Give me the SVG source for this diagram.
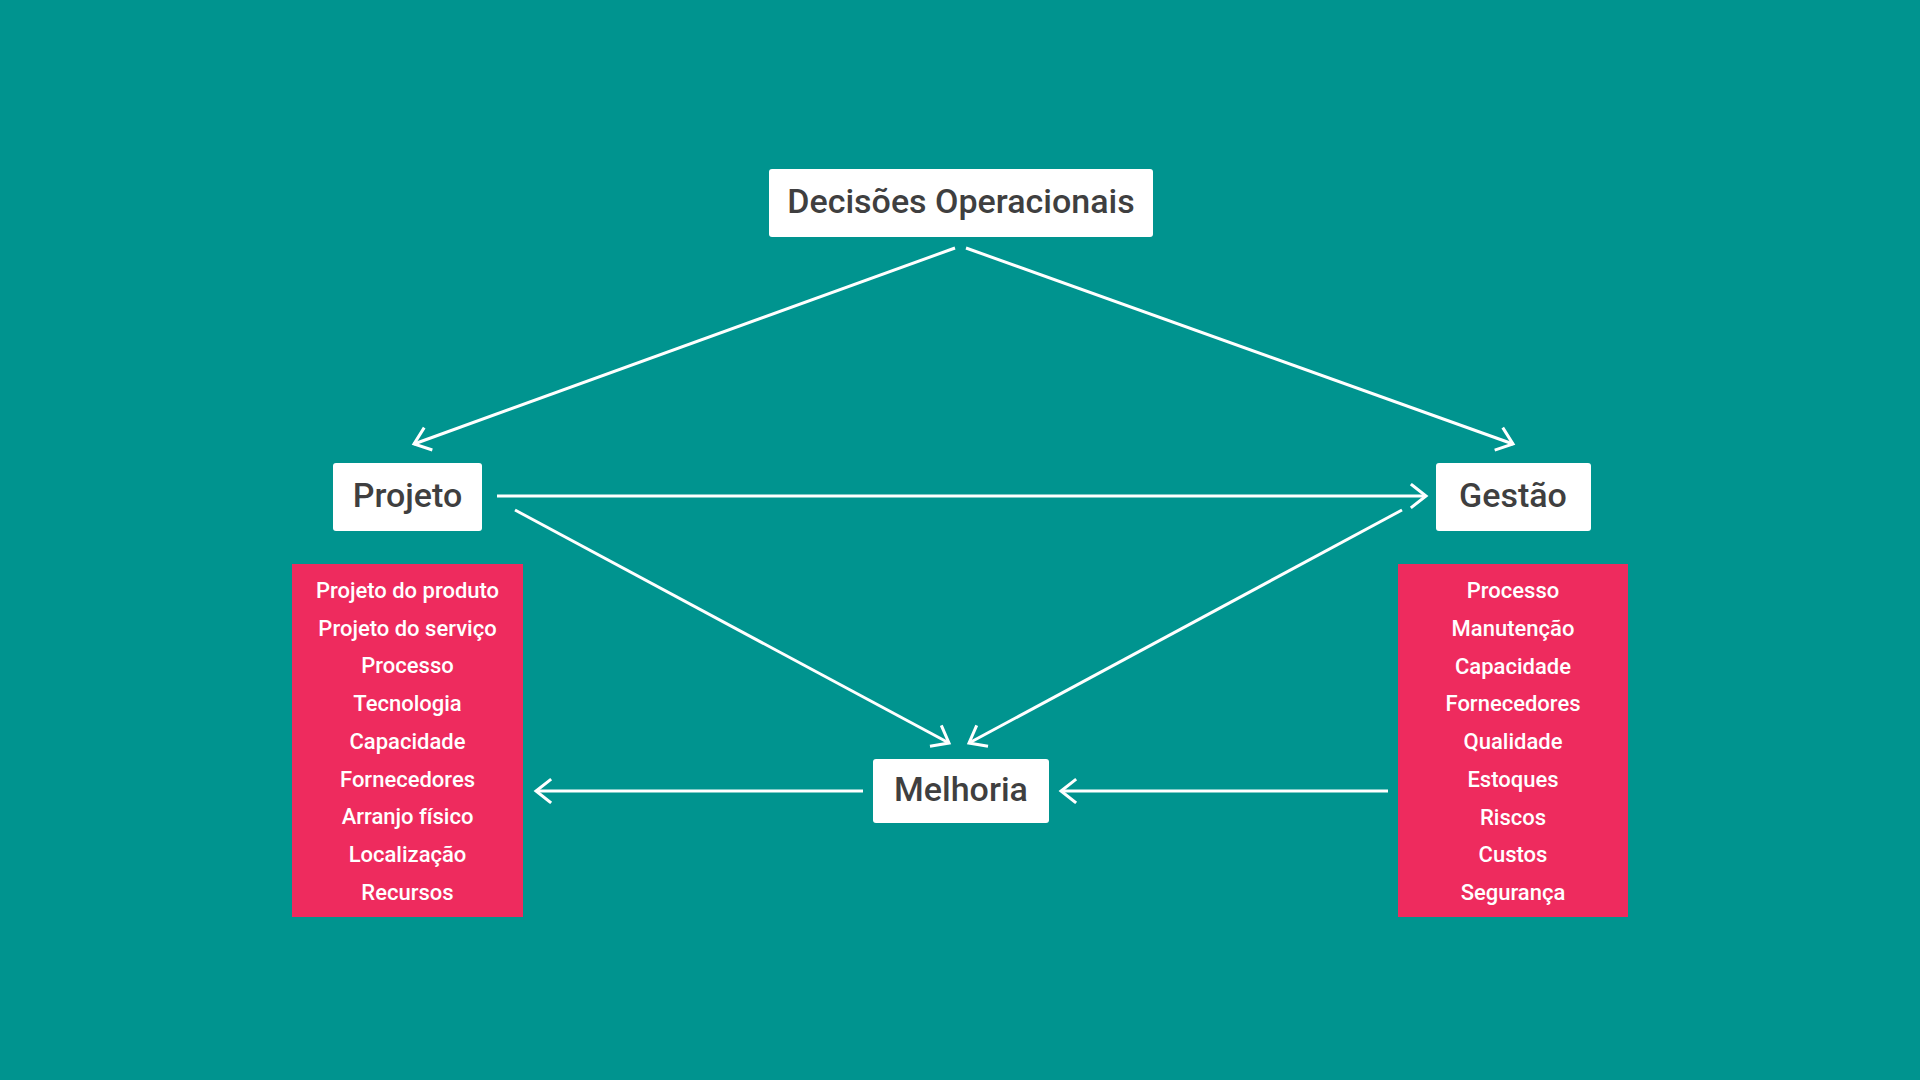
<svg xmlns="http://www.w3.org/2000/svg" width="1920" height="1080" viewBox="0 0 1920 1080">
<defs>
<style>
.node{fill:#ffffff;}
.ntxt{font-family:Roboto,"Noto Sans",sans-serif;font-weight:500;font-size:34px;fill:#3f3f40;text-anchor:middle;}
.list{fill:#ee2b5e;}
.ltxt{font-family:Roboto,"Noto Sans",sans-serif;font-weight:500;font-size:22px;fill:#ffffff;text-anchor:middle;}
.conn{stroke:#ffffff;stroke-width:3;fill:none;marker-end:url(#arr);}
</style>
<marker id="arr" markerUnits="userSpaceOnUse" markerWidth="40" markerHeight="40" refX="0" refY="0" viewBox="-20 -20 40 40" orient="auto">
<path d="M -14,-11 L 0,0 L -14,11" fill="none" stroke="#ffffff" stroke-width="3" stroke-linecap="square"/>
</marker>
</defs>
<rect width="1920" height="1080" fill="#00948f"/>
<g id="connectors">
<line class="conn" x1="955" y1="248" x2="414" y2="444"/>
<line class="conn" x1="966" y1="248" x2="1513" y2="444"/>
<line class="conn" x1="497" y1="496" x2="1426" y2="496"/>
<line class="conn" x1="515" y1="510" x2="949" y2="743"/>
<line class="conn" x1="1402" y1="510" x2="969" y2="743"/>
<line class="conn" x1="863" y1="791" x2="536" y2="791"/>
<line class="conn" x1="1388" y1="791" x2="1061" y2="791"/>
</g>
<g id="decisoes">
<rect class="node" x="769" y="169" width="384" height="68" rx="3"/>
<text class="ntxt" x="961" y="213">Decisões Operacionais</text>
</g>
<g id="projeto">
<rect class="node" x="333" y="463" width="149" height="68" rx="3"/>
<text class="ntxt" x="407.5" y="507">Projeto</text>
</g>
<g id="gestao">
<rect class="node" x="1436" y="463" width="155" height="68" rx="3"/>
<text class="ntxt" x="1513" y="507">Gestão</text>
</g>
<g id="melhoria">
<rect class="node" x="873" y="759" width="176" height="64" rx="3"/>
<text class="ntxt" x="961" y="801">Melhoria</text>
</g>
<g id="lista-projeto">
<rect class="list" x="292" y="564" width="231" height="353"/>
<text class="ltxt" x="407.5" y="598">Projeto do produto</text>
<text class="ltxt" x="407.5" y="636">Projeto do serviço</text>
<text class="ltxt" x="407.5" y="673">Processo</text>
<text class="ltxt" x="407.5" y="711">Tecnologia</text>
<text class="ltxt" x="407.5" y="749">Capacidade</text>
<text class="ltxt" x="407.5" y="787">Fornecedores</text>
<text class="ltxt" x="407.5" y="824">Arranjo físico</text>
<text class="ltxt" x="407.5" y="862">Localização</text>
<text class="ltxt" x="407.5" y="900">Recursos</text>
</g>
<g id="lista-gestao">
<rect class="list" x="1398" y="564" width="230" height="353"/>
<text class="ltxt" x="1513" y="598">Processo</text>
<text class="ltxt" x="1513" y="636">Manutenção</text>
<text class="ltxt" x="1513" y="674">Capacidade</text>
<text class="ltxt" x="1513" y="711">Fornecedores</text>
<text class="ltxt" x="1513" y="749">Qualidade</text>
<text class="ltxt" x="1513" y="787">Estoques</text>
<text class="ltxt" x="1513" y="825">Riscos</text>
<text class="ltxt" x="1513" y="862">Custos</text>
<text class="ltxt" x="1513" y="900">Segurança</text>
</g>
</svg>
